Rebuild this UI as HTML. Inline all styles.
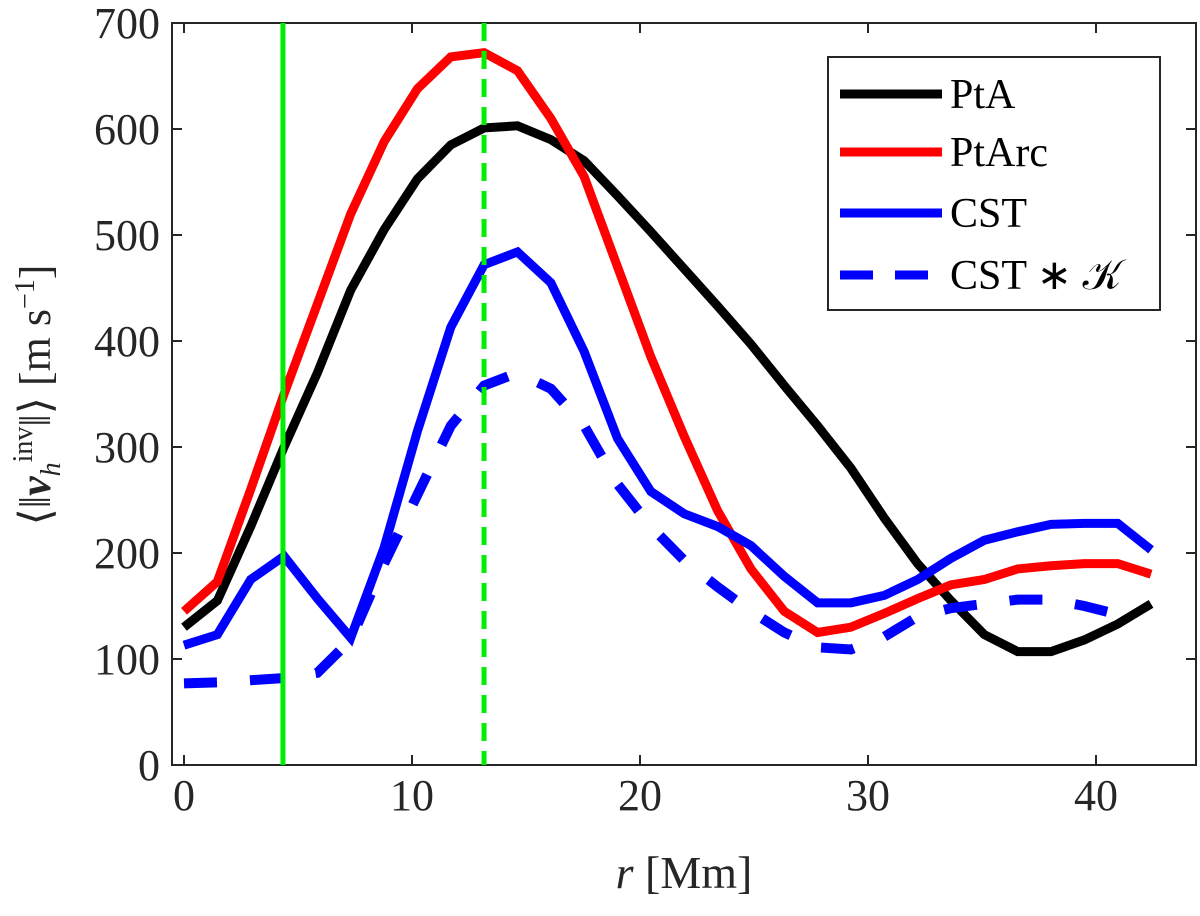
<!DOCTYPE html>
<html><head><meta charset="utf-8"><style>
body{margin:0;background:#fff}
svg text{font-family:"Liberation Serif",serif;fill:#262626}
</style></head><body>
<svg id="chart" width="1200" height="911" xmlns="http://www.w3.org/2000/svg">
<g id="plot"></g>
</svg>
<script>
const xStep = 1.4626;
const ptaValues = [130,155,225,300,370,448,505,553,585,601,603,590,570,537,503,468,433,397,358,320,280,233,190,155,123,107,107,118,133,152];
const ptarcValues = [145,173,260,350,435,520,588,638,668,672,655,610,555,470,385,310,240,185,145,125,130,143,157,170,175,185,188,190,190,180];
const cstValues = [113,123,175,197,157,120,205,315,413,472,484,455,390,308,258,237,225,207,178,153,153,160,175,195,212,220,227,228,228,203];
const cstKValues = [77,78,80,82,87,118,190,255,320,358,370,355,320,265,225,193,168,145,125,111,109,121,140,148,152,156,156,150,142];
const xTicks = [0,10,20,30,40];
const yTicks = [0,100,200,300,400,500,600,700];
const markerLines = [4.34, 13.16];

const L=172,R=1196,T=23,B=765;
const X0=184, PXM=22.8, PY=1.06;
const sx=v=>X0+v*PXM, sy=v=>B-v*PY;
const NS='http://www.w3.org/2000/svg';
const g=document.getElementById('plot');
function mk(tag,attrs,parent){const e=document.createElementNS(NS,tag);for(const k in attrs)e.setAttribute(k,attrs[k]);(parent||g).appendChild(e);return e;}

const box=mk('rect',{x:L,y:T,width:R-L,height:B-T,fill:'none',stroke:'#262626','stroke-width':2});



xTicks.forEach(v=>{
  const t=mk('line',{x1:sx(v),x2:sx(v),y1:B,y2:B-10,stroke:'#262626','stroke-width':2});
  
  
  const t2=mk('line',{x1:sx(v),x2:sx(v),y1:T,y2:T+10,stroke:'#262626','stroke-width':2});
  
  
  const lb=mk('text',{x:sx(v),y:810,'font-size':44,'text-anchor':'middle'});
  lb.textContent=v;
  
  
});
yTicks.forEach(v=>{
  const t=mk('line',{x1:L,x2:L+10,y1:sy(v),y2:sy(v),stroke:'#262626','stroke-width':2});
  
  
  const t2=mk('line',{x1:R,x2:R-10,y1:sy(v),y2:sy(v),stroke:'#262626','stroke-width':2});
  
  
  const lb=mk('text',{x:160,y:sy(v)+15,'font-size':44,'text-anchor':'end'});
  lb.textContent=v;
  
  
});

function series(vals,color,w,dash,name){
  const pts=vals.map((v,i)=>sx(i*xStep)+','+sy(v)).join(' ');
  const a={points:pts,fill:'none',stroke:color,'stroke-width':w,'stroke-linejoin':'miter'};
  if(dash)a['stroke-dasharray']=dash;
  const p=mk('polyline',a);
  
  
}
series(ptaValues,'#000',9,null,'series-pta');
series(ptarcValues,'#ff0000',9,null,'series-ptarc');
series(cstValues,'#0000ff',9,null,'series-cst');
series(cstKValues,'#0000ff',10,'33 33','series-cst-k');

markerLines.forEach((v,i)=>{
  const a={x1:sx(v),x2:sx(v),y1:T,y2:B,stroke:'#00ee00','stroke-width':5};
  if(i===1)a['stroke-dasharray']='18 10';
  const l=mk('line',a);
  
  
});

const lg=mk('g',{});


mk('rect',{x:828,y:57,width:332,height:253,fill:'#fff',stroke:'#262626','stroke-width':2},lg);
const entries=[['PtA','#000',null],['PtArc','#ff0000',null],['CST','#0000ff',null],['CST \u2217 \uD835\uDCA6','#0000ff','33 22']];
const ly=[94,152,213,275];
entries.forEach((e,i)=>{
  const a={x1:840,x2:942,y1:ly[i],y2:ly[i],stroke:e[1],'stroke-width':9};
  if(e[2])a['stroke-dasharray']=e[2];
  const ln=mk('line',a,lg);
  
  
  const t=mk('text',{x:950,y:ly[i]+14,'font-size':42},lg);
  t.style.fill='#000';
  t.textContent=e[0];
  
  
});

const xt=mk('text',{x:684,y:888,'font-size':46,'text-anchor':'middle'});
xt.innerHTML='<tspan font-style="italic">r</tspan> [Mm]';


const yt=mk('text',{x:0,y:0,'font-size':44,'text-anchor':'middle',transform:'translate(50,395) rotate(-90)'});
yt.innerHTML='⟨‖<tspan font-weight="bold" font-style="italic">v</tspan><tspan font-style="italic" font-size="28" dy="10">h</tspan><tspan font-size="28" dy="-28">inv</tspan><tspan dy="18">‖⟩ [m s</tspan><tspan font-size="28" dy="-16">−1</tspan><tspan dy="16">]</tspan>';


</script>
</body></html>
